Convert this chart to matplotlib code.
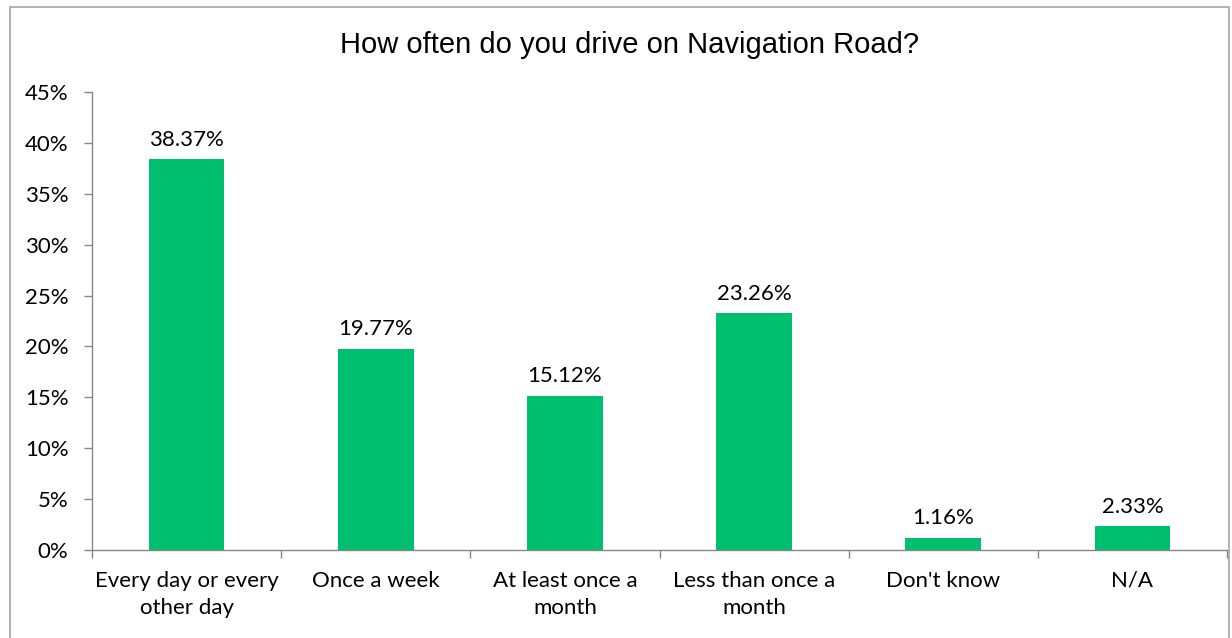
import matplotlib
matplotlib.use('Agg')
import matplotlib.pyplot as plt
from matplotlib.patches import Rectangle
from matplotlib.ticker import FuncFormatter, FixedLocator, NullFormatter

# Chart data
categories = ['Every day or every\nother day', 'Once a week', 'At least once a\nmonth',
              'Less than once a\nmonth', "Don't know", 'N/A']
values = [38.37, 19.77, 15.12, 23.26, 1.16, 2.33]
title = 'How often do you drive on Navigation Road?'

bar_color = '#00BF6F'
axis_color = '#868686'
fs = 16

fig = plt.figure(figsize=(12.32, 6.38), dpi=100)
ax = fig.add_axes([92 / 1232, 1 - 550 / 638, (1227 - 92) / 1232, (550 - 92) / 638])

# outer chart border
fig.patches.append(Rectangle((10 / 1232, -0.01), 1219 / 1232, 1 - 7 / 638 + 0.01,
                             transform=fig.transFigure, fill=False,
                             edgecolor='#A6A6A6', linewidth=1.2))

x = range(len(categories))
ax.bar(x, values, width=0.4, color=bar_color)

for xi, v in zip(x, values):
    ax.annotate(f'{v:.2f}%', (xi, v), xytext=(0, 7), textcoords='offset points',
                ha='center', va='bottom', fontsize=fs, family='Lato', color='black')

ax.set_xlim(-0.5, len(categories) - 0.5)
ax.set_ylim(0, 45)
ax.set_yticks(range(0, 46, 5))
ax.yaxis.set_major_formatter(FuncFormatter(lambda v, p: f'{v:.0f}%'))

ax.set_xticks(list(x))
ax.set_xticklabels(categories, fontsize=fs, family='Lato', linespacing=1.45)
ax.xaxis.set_minor_locator(FixedLocator([i - 0.5 for i in range(len(categories) + 1)]))
ax.xaxis.set_minor_formatter(NullFormatter())
ax.tick_params(axis='x', which='major', length=0, pad=15)
ax.tick_params(axis='x', which='minor', length=6, color=axis_color, width=1)
ax.tick_params(axis='y', length=6, color=axis_color, width=1, labelsize=fs, pad=11)
for lbl in ax.get_yticklabels():
    lbl.set_family('Lato')

for s in ['top', 'right']:
    ax.spines[s].set_visible(False)
for s in ['left', 'bottom']:
    ax.spines[s].set_color(axis_color)
    ax.spines[s].set_linewidth(1)

fig.text(0.5 + 14 / 1232, 1 - 45 / 638, title, ha='center', va='center',
         fontsize=21, family='Liberation Sans')

fig.savefig('out.png', dpi=100, facecolor='white')
